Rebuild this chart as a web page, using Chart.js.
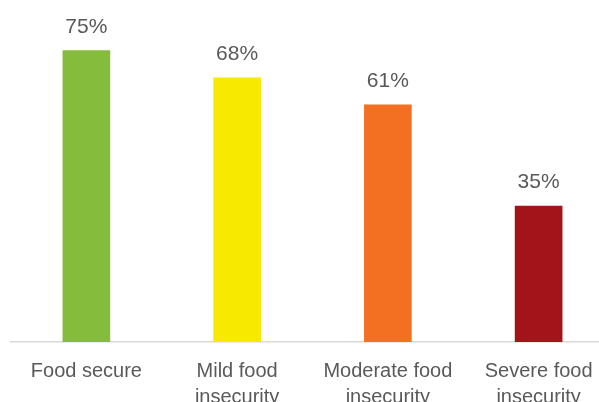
<!DOCTYPE html>
<html lang="en">
<head>
    <meta charset="UTF-8">
    <title>Food security</title>
    <script src="https://cdn.jsdelivr.net/npm/chart.js"></script>
    <style>
        html, body {
            margin: 0;
            padding: 0;
            background: #ffffff;
            overflow: hidden;
            width: 599px;
            height: 402px;
        }
        .wrap {
            position: relative;
            width: 614px;
            height: 426px;
        }
    </style>
</head>
<body>
    <div class="wrap">
        <canvas id="foodChart"></canvas>
    </div>

    <script>
        const categories = [
            'Food secure',
            ['Mild food', 'insecurity'],
            ['Moderate food', 'insecurity'],
            ['Severe food', 'insecurity']
        ];
        const shares = [75, 68, 61, 35];
        const barColors = ['#86bc3b', '#f8e900', '#f37022', '#a2131a'];

        const textColor = '#595959';
        const fontFamily = '"Liberation Sans", Arial, Helvetica, sans-serif';

        // value labels above each bar
        const valueLabels = {
            id: 'valueLabels',
            afterDatasetsDraw(chart) {
                const ctx = chart.ctx;
                const meta = chart.getDatasetMeta(0);
                ctx.save();
                ctx.fillStyle = textColor;
                ctx.font = '21px ' + fontFamily;
                ctx.textAlign = 'center';
                ctx.textBaseline = 'bottom';
                meta.data.forEach((bar, i) => {
                    ctx.fillText(shares[i] + '%', bar.x, bar.y - 13);
                });
                ctx.restore();
            }
        };

        new Chart(document.getElementById('foodChart'), {
            type: 'bar',
            data: {
                labels: categories,
                datasets: [{
                    data: shares,
                    backgroundColor: barColors,
                    barThickness: 47
                }]
            },
            options: {
                responsive: true,
                maintainAspectRatio: false,
                animation: false,
                layout: {
                    padding: { left: 11, right: 0, top: 0, bottom: 0 }
                },
                plugins: {
                    legend: { display: false },
                    tooltip: { enabled: false }
                },
                scales: {
                    x: {
                        grid: { display: false, drawTicks: false },
                        border: { display: true, color: '#d9d9d9', width: 1.5 },
                        ticks: {
                            color: textColor,
                            font: { size: 20, family: fontFamily, lineHeight: 1.3 },
                            padding: 16,
                            maxRotation: 0,
                            autoSkip: false
                        }
                    },
                    y: {
                        display: false,
                        min: 0,
                        max: 88
                    }
                }
            },
            plugins: [valueLabels]
        });
    </script>
</body>
</html>
